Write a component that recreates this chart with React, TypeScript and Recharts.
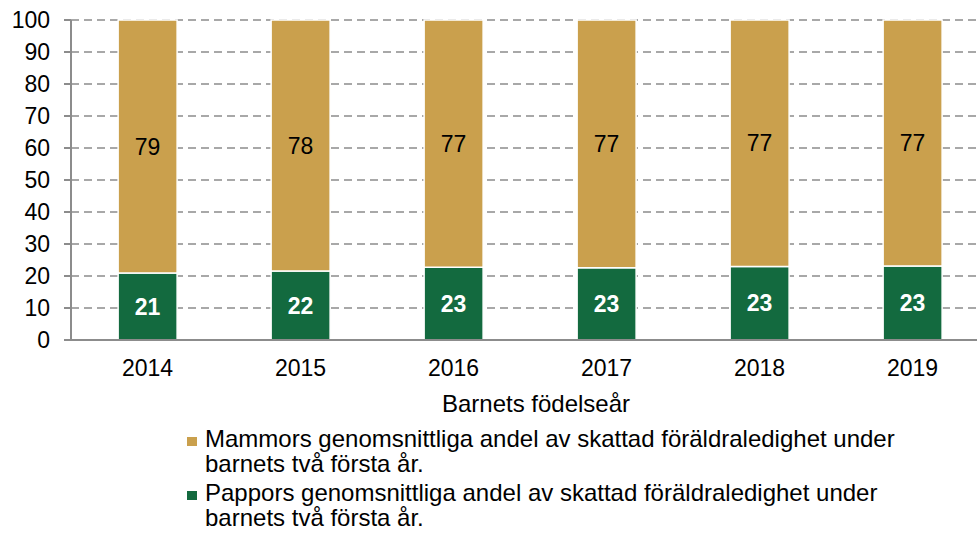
import React from 'react';
import { BarChart, Bar, XAxis, YAxis, CartesianGrid, LabelList, Label } from 'recharts';

const years = ['2014', '2015', '2016', '2017', '2018', '2019'];
const pappor = [20.9, 21.6, 22.7, 22.6, 23.0, 23.1];
const mammor = [79.1, 78.4, 77.3, 77.4, 77.0, 76.9];
const yTicks = [0, 10, 20, 30, 40, 50, 60, 70, 80, 90, 100];
const xTitle = 'Barnets födelseår';
const seriesNames = {
  mammor: 'Mammors genomsnittliga andel av skattad föräldraledighet under barnets två första år.',
  pappor: 'Pappors genomsnittliga andel av skattad föräldraledighet under barnets två första år.',
};

const GOLD = '#CAA04D';
const GREEN = '#136A3F';
const GRAY = '#8C8C8C';
const FONT = '"Liberation Sans", Arial, sans-serif';

const data = years.map((y, i) => ({ year: y, pappor: pappor[i], mammor: mammor[i] }));

const legendItems = [
  { key: 'mammor', color: GOLD, label: seriesNames.mammor, top: 426 },
  { key: 'pappor', color: GREEN, label: seriesNames.pappor, top: 480 },
];

const fmt = (v: any) => Math.round(Number(v));

export default function App() {
  return (
    <div style={{ position: 'absolute', left: 0, top: 0, width: 977, height: 534, overflow: 'hidden', background: '#fff', fontFamily: FONT }}>
      <BarChart
        width={989}
        height={534}
        data={data}
        margin={{ top: 20, right: 0, bottom: 114, left: 0 }}
        barCategoryGap="30.8%"
        style={{ fontFamily: FONT }}
      >
        <CartesianGrid vertical={false} stroke={GRAY} strokeWidth={1.5} strokeDasharray="8 5" />
        <XAxis
          dataKey="year"
          height={80}
          axisLine={{ stroke: GRAY, strokeWidth: 2 }}
          tickLine={false}
          tickSize={6}
          tickMargin={14}
          tick={{ fill: '#000', fontSize: 23, fontFamily: FONT }}
        >
          <Label value={xTitle} position="insideBottom" offset={8} dx={6} style={{ fill: '#000', fontSize: 24, fontFamily: FONT }} />
        </XAxis>
        <YAxis
          width={71}
          domain={[0, 100]}
          ticks={yTicks}
          interval={0}
          axisLine={{ stroke: GRAY, strokeWidth: 2 }}
          tickLine={{ stroke: GRAY, strokeWidth: 2 }}
          tickSize={7}
          tickMargin={14}
          tick={{ fill: '#000', fontSize: 23, fontFamily: FONT }}
        />
        <Bar dataKey="pappor" stackId="a" fill={GREEN} stroke="#fff" strokeWidth={1.5} isAnimationActive={false}>
          <LabelList dataKey="pappor" position="center" formatter={fmt} style={{ fill: '#fff', fontSize: 23, fontWeight: 'bold', fontFamily: FONT }} />
        </Bar>
        <Bar dataKey="mammor" stackId="a" fill={GOLD} stroke="#fff" strokeWidth={1.5} isAnimationActive={false}>
          <LabelList dataKey="mammor" position="center" formatter={fmt} style={{ fill: '#000', fontSize: 23, fontFamily: FONT }} />
        </Bar>
      </BarChart>
      {legendItems.map((it) => (
        <div key={it.key} style={{ position: 'absolute', left: 187, top: it.top, width: 760, fontSize: 24, lineHeight: '25px', color: '#000' }}>
          <div style={{ position: 'absolute', left: 0, top: 11, width: 10, height: 9, background: it.color }} />
          <div style={{ marginLeft: 18, width: 720 }}>{it.label}</div>
        </div>
      ))}
    </div>
  );
}
